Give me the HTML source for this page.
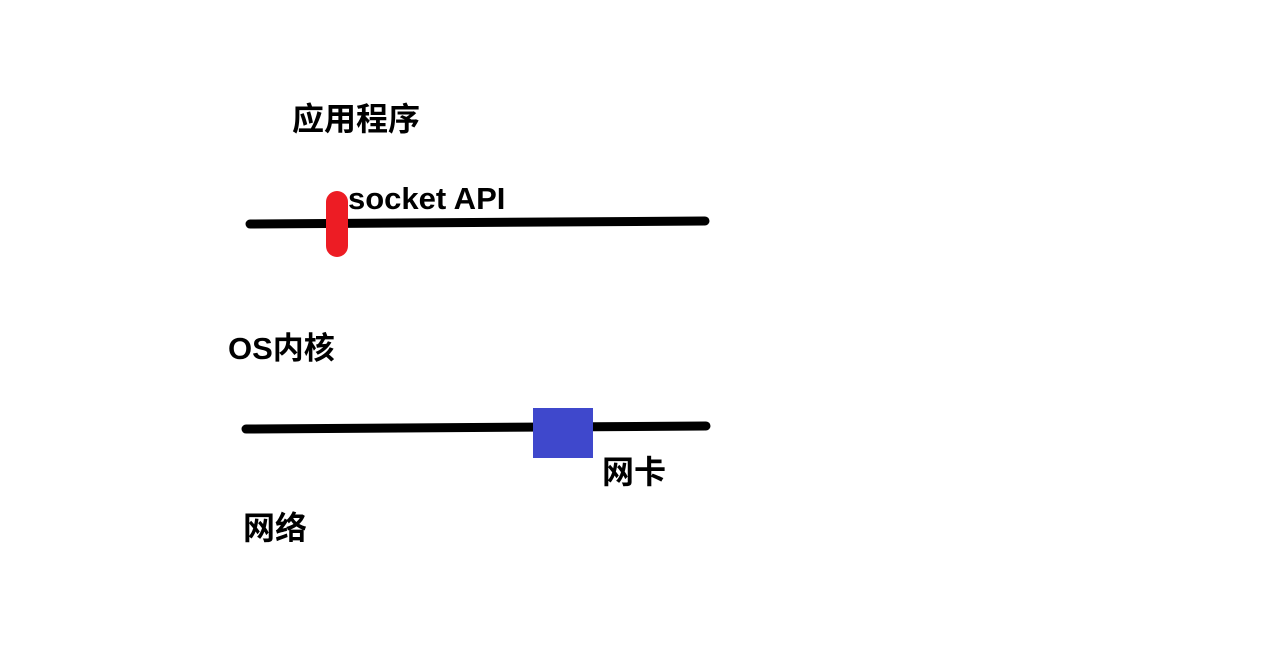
<!DOCTYPE html>
<html><head><meta charset="utf-8"><style>
body{margin:0;width:1284px;height:648px;background:#fff;overflow:hidden;position:relative}
.t{position:absolute;font-family:"Liberation Sans","Noto Sans CJK SC",sans-serif;font-weight:bold;font-size:32px;line-height:1;color:#000;white-space:nowrap}
</style></head><body>
<svg width="1284" height="648" style="position:absolute;left:0;top:0">
<line x1="250" y1="224" x2="705" y2="221" stroke="#000" stroke-width="9" stroke-linecap="round"/>
<rect x="326" y="191" width="22" height="66" rx="11" fill="#ed1c24"/>
<line x1="246" y1="429" x2="706" y2="426" stroke="#000" stroke-width="9" stroke-linecap="round"/>
<rect x="533" y="408" width="60" height="50" fill="#3f48cc"/>
</svg>
<div class="t" style="left:292px;top:103px">应用程序</div>
<div class="t" style="left:348px;top:183px;font-size:31px">socket API</div>
<div class="t" style="left:228px;top:333px;font-size:31px">OS内核</div>
<div class="t" style="left:602px;top:456px">网卡</div>
<div class="t" style="left:243px;top:512px">网络</div>
</body></html>
